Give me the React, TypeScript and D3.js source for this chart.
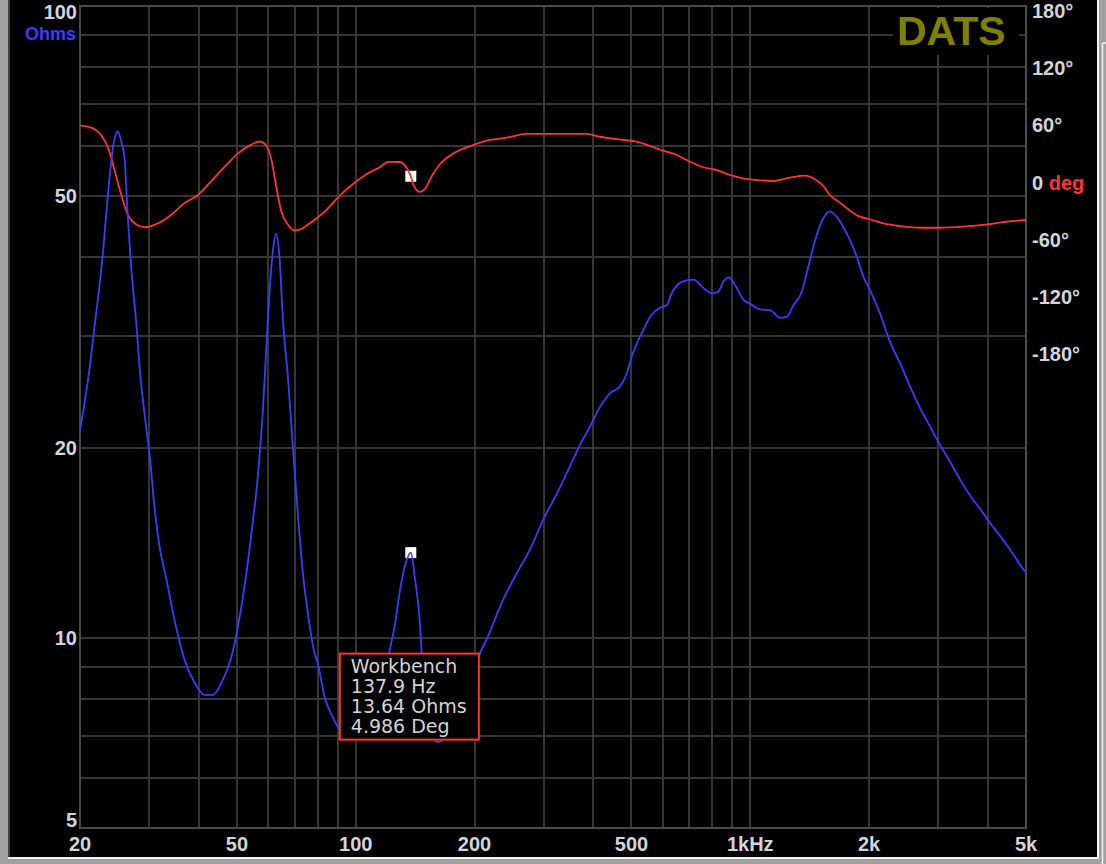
import * as d3 from "d3";

const W = 1106;
const H = 864;
const plot = { left: 80, right: 1026, top: 6, bottom: 828 };

// impedance magnitude (ohms) vs frequency
const impFreq = [
  20, 21.2, 21.8, 22.4, 22.9, 23.3, 23.8, 24.25, 24.95, 25.45, 25.95, 26.45, 27.0, 27.8, 28.35,
  29.2, 30.05, 30.95, 31.85, 33.1, 34.8, 36.9, 39.1, 41.4, 43.5, 45.6, 48.35, 50.3, 52.3, 54.3,
  56.5, 58.2, 59.3, 60.5, 61.7, 62.8, 64.1, 65.4, 67.3, 69.3, 71.4, 73.5, 75.7, 77.9, 80.4,
  83.6, 86.9, 90.3, 93.9, 99.6, 105.6, 111.9, 117.3, 122.1, 125.7, 129.5, 133.3, 137.9, 141.3,
  145.5, 146.9, 152.4, 160.4, 168.3, 183.8, 197.1, 206.5, 216.4, 229.4, 236.6, 255.9, 276.5,
  298.9, 323.2, 349.3, 370.2, 392.5, 416.1, 441.1, 467.6, 486.3, 500.7, 515.5, 535.7, 557.1,
  590.6, 614.2, 632.4, 670.4, 717.3, 760.2, 798.4, 829.8, 854.4, 879.7, 914.8, 960.2, 998.6,
  1058, 1122, 1190, 1237, 1286, 1351, 1391, 1431, 1474, 1531, 1592, 1656, 1721, 1790, 1862,
  1935, 2012, 2133, 2261, 2397, 2541, 2694, 2856, 3027, 3209, 3403, 3607, 3824, 4054, 4298,
  4556, 4944, 5000,
];
const impOhms = [
  21.3, 27.0, 31.3, 36.0, 41.1, 46.7, 54.0, 59.8, 63.3, 61.0, 57.3, 46.1, 38.2, 31.3, 26.6,
  22.4, 19.4, 15.9, 13.9, 12.4, 10.6, 9.19, 8.48, 8.12, 8.12, 8.48, 9.31, 10.44, 12.1, 14.5,
  18.1, 23.1, 28.6, 35.5, 41.1, 43.6, 39.9, 31.7, 25.9, 20.0, 15.6, 12.6, 10.9, 9.7, 9.02,
  8.01, 7.55, 7.21, 7.02, 6.94, 7.15, 7.69, 8.57, 9.6, 10.5, 11.9, 13.0, 13.64, 12.4,
  10.5, 9.46, 7.69, 6.84, 6.94, 7.69, 8.73, 9.46, 10.05, 11.0, 11.5, 12.65, 13.8,
  15.4, 16.9, 18.7, 20.2, 21.6, 23.2, 24.4, 25.0, 26.2, 27.9, 29.2, 30.7, 32.2,
  33.3, 33.6, 35.1, 36.6, 36.9, 35.8, 35.1, 35.3, 36.6, 37.2, 36.2, 34.3, 33.8,
  33.1, 33.0, 32.1, 32.2, 33.6, 35.3, 37.8, 40.6, 43.4, 46.1, 47.3, 46.4, 44.7, 42.6, 40.1,
  37.3, 35.5, 32.6, 29.4, 27.2, 25.0, 23.1, 21.6, 20.2, 19.0, 17.8, 16.8, 16.0, 15.2, 14.5,
  13.8, 12.8, 12.7,
];

// phase (degrees) vs frequency
const phaseFreq = [
  20, 21.35, 22.65, 23.55, 24.5, 25.45, 26.45, 27.8, 29.2, 31.5, 34.1, 36.9, 39.8, 43.05, 46.5,
  50.3, 54.3, 57.1, 59.3, 61.1, 62.9, 64.7, 67.3, 70.0, 72.1, 75.7, 79.9, 84.4, 90.3, 98.6,
  106.6, 115.3, 121.0, 129.5, 134.7, 137.9, 139.9, 145.5, 149.8, 155.8, 163.5, 176.7, 198.6,
  218.9, 241.3, 271.2, 323.2, 384.9, 416.1, 476.7, 515.5, 557.1, 602.1, 651, 703.7, 760.2, 822,
  888.7, 960.2, 1038, 1144, 1261, 1377, 1459, 1531, 1592, 1688, 1790, 1897, 2012, 2175, 2397,
  2694, 3027, 3470, 4054, 4467, 5000,
];
const phaseDeg = [
  58.0, 55.9, 47.6, 35.1, 10.5, -14.7, -35.3, -45.7, -48.5, -44.4, -35.3, -22.9, -14.7, 0, 14.7,
  28.9, 38.1, 41.4, 37.2, 22.7, -6.3, -31.1, -45.7, -51.9, -51.0, -45.7, -38.6, -29.9, -16.8, -2.9,
  7.3, 14.7, 20.1, 19.9, 13.6, 4.986, -3.8, -11.5, -8.2, 4.9, 17.8, 28.8, 37.7,
  43.0, 45.4, 49.3, 49.3, 49.3, 46.4, 43.0, 41.2, 36.7, 31.8, 27.3, 20.2, 14.4, 11.5,
  6.3, 2.8, 1.0, 0, 3.5, 5.6, 1.8, -5.2, -14.7, -22.7, -31.1, -37.4, -40.1, -44.3, -47.2,
  -49.0, -49.0, -47.9, -45.1, -42.7, -40.9,
];

// grid and ticks
const gridFreq = [30, 40, 50, 60, 70, 80, 90, 100, 200, 300, 400, 500, 600, 700, 800, 900, 1000, 2000, 3000, 4000];
const gridOhms = [6, 7, 8, 9, 10, 20, 30, 40, 50, 60, 70, 80, 90];
const freqTicks = [20, 50, 100, 200, 500, 1000, 2000, 5000];
const freqTickLabels = ["20", "50", "100", "200", "500", "1kHz", "2k", "5k"];
const ohmTicks = [100, 50, 20, 10, 5];
const phaseTicks = [180, 120, 60, 0, -60, -120, -180];

// cursor readout
const cursor = { label: "Workbench", freq: 137.9, ohms: 13.64, deg: 4.986 };

const tickFont = "'Liberation Sans', Arial, sans-serif";
const boxFont = "'DejaVu Sans', Verdana, sans-serif";
const tickColor = "#d2d6da";
const blue = "#3c3cff";
const red = "#ff3434";
const gridColor = "#363636";

export default function App() {
  const x = d3.scaleLog().domain([20, 5000]).range([plot.left, plot.right]);
  const yZ = d3.scaleLog().domain([5, 100]).range([plot.bottom, plot.top]);
  const yP = d3.scaleLinear().domain([-180, 180]).range([352.7, 9.3]);

  const impLine = d3
    .line<number>()
    .x((_, i) => x(impFreq[i]))
    .y((v) => yZ(v))
    .curve(d3.curveMonotoneX);
  const phaseLine = d3
    .line<number>()
    .x((_, i) => x(phaseFreq[i]))
    .y((v) => yP(v))
    .curve(d3.curveMonotoneX);

  const cx = x(cursor.freq);
  const boxX = cx - 71;
  const boxY = yZ(cursor.ohms) + 101;

  return (
    <>
      <style>{"body{margin:0;background:#a0a0a0}"}</style>
      <svg width={W} height={H} style={{ display: "block" }}>
        <defs>
          <clipPath id="plotClip">
            <rect x={plot.left} y={plot.top} width={plot.right - plot.left} height={plot.bottom - plot.top} />
          </clipPath>
        </defs>

        {/* window frame */}
        <rect x={0} y={0} width={W} height={H} fill="#a0a0a0" />
        <rect x={8} y={0} width={1091} height={859} fill="#f2f2f2" />
        <rect x={8} y={0} width={1089} height={857} fill="#404040" />
        <rect x={10} y={0} width={1087} height={857} fill="#000" />
        <path d="M1102.5,43 H1106 M1102.5,43 V864" stroke="#f2f2f2" strokeWidth={1.5} fill="none" />

        {/* grid */}
        <g shapeRendering="crispEdges" stroke={gridColor} strokeWidth={2}>
          {gridFreq.map((f) => (
            <line key={`v${f}`} x1={Math.round(x(f))} x2={Math.round(x(f))} y1={plot.top} y2={plot.bottom} />
          ))}
          {gridOhms.map((z) => (
            <line key={`h${z}`} x1={plot.left} x2={plot.right} y1={Math.round(yZ(z))} y2={Math.round(yZ(z))} />
          ))}
        </g>
        <rect
          x={plot.left}
          y={plot.top}
          width={plot.right - plot.left}
          height={plot.bottom - plot.top}
          fill="none"
          stroke="#4a4a4a"
          strokeWidth={2}
          shapeRendering="crispEdges"
        />

        {/* brand */}
        <rect x={893} y={plot.top + 2} width={126} height={47} fill="#000" />
        <text x={897} y={45} fontFamily={tickFont} fontWeight="bold" fontSize={41} fill="#808000">
          DATS
        </text>

        {/* cursor markers */}
        <rect x={cx - 5.5} y={yP(cursor.deg) - 5.5} width={11} height={11} fill="#fff" />
        <rect x={cx - 5.5} y={yZ(cursor.ohms) - 5.5} width={11} height={11} fill="#fff" />

        {/* curves */}
        <g clipPath="url(#plotClip)" fill="none" strokeWidth={1.8} strokeLinejoin="round">
          <path d={phaseLine(phaseDeg) ?? ""} stroke={red} />
          <path d={impLine(impOhms) ?? ""} stroke={blue} />
        </g>

        {/* cursor readout */}
        <rect x={boxX} y={boxY} width={139} height={86} fill="#000" stroke={red} strokeWidth={2} />
        <g fontFamily={boxFont} fontSize={19} fill="#d4d4d4">
          {[
            cursor.label,
            `${cursor.freq} Hz`,
            `${cursor.ohms} Ohms`,
            `${cursor.deg} Deg`,
          ].map((t, i) => (
            <text key={t} x={boxX + 11} y={boxY + 19 + i * 20}>
              {t}
            </text>
          ))}
        </g>

        {/* left axis */}
        <g fontFamily={tickFont} fontWeight="bold" fontSize={20} fill={tickColor} textAnchor="end">
          {ohmTicks.map((z) => (
            <text key={z} x={77} y={Math.min(Math.max(yZ(z), 12), 820)} dy="0.36em">
              {z}
            </text>
          ))}
          <text x={76} y={33.5} dy="0.36em" fontSize={18} fill={blue}>
            Ohms
          </text>
        </g>

        {/* right axis */}
        <g fontFamily={tickFont} fontWeight="bold" fontSize={20} fill={tickColor}>
          {phaseTicks.map((p) => (
            <text key={p} x={1032} y={yP(p) + 1.5} dy="0.36em">
              {p === 0 ? (
                <>
                  0 <tspan fill={red}>deg</tspan>
                </>
              ) : (
                `${p}°`
              )}
            </text>
          ))}
        </g>

        {/* bottom axis */}
        <g fontFamily={tickFont} fontWeight="bold" fontSize={20} fill={tickColor} textAnchor="middle">
          {freqTicks.map((f, i) => (
            <text key={f} x={x(f)} y={844} dy="0.36em">
              {freqTickLabels[i]}
            </text>
          ))}
        </g>
      </svg>
    </>
  );
}
